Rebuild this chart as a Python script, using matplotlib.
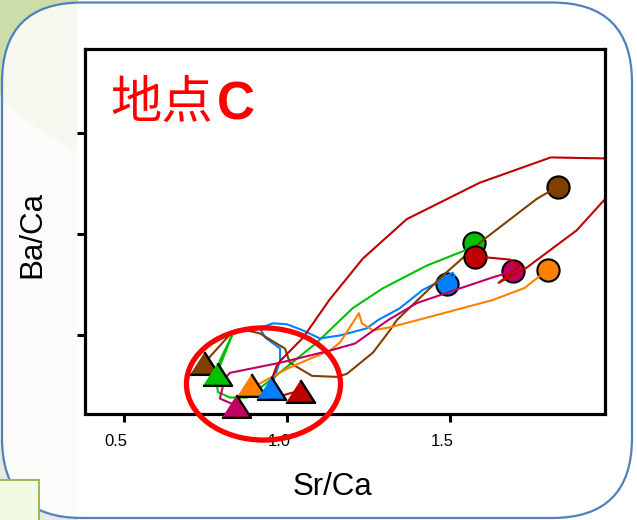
import matplotlib
matplotlib.use('Agg')
import matplotlib.pyplot as plt
from matplotlib.patches import FancyBboxPatch, Ellipse, Rectangle, Polygon
from matplotlib.transforms import ScaledTranslation

plt.rcParams['font.family'] = ['Liberation Sans', 'DejaVu Sans']

# values (y axis has no labels, ticks taken as 1, 2, 3)
red_x = [1.04, 0.99, 0.93, 0.954, 0.969, 0.98, 1.05, 1.13, 1.233, 1.368, 1.592, 1.81, 1.975,
         2.10, 1.98, 1.89, 1.736, 1.65, 1.715, 1.684, 1.617, 1.577]
red_y = [0.455, 0.41, 0.42, 0.574, 0.70, 0.75, 0.98, 1.35, 1.76, 2.15, 2.51, 2.76, 2.75,
         2.75, 2.36, 2.04, 1.67, 1.52, 1.69, 1.75, 1.77, 1.78]
brown_x = [0.745, 0.831, 0.877, 0.917, 0.994, 1.009, 1.077, 1.153, 1.184, 1.264, 1.316,
           1.337, 1.485, 1.601, 1.767, 1.831]
brown_y = [0.723, 1.03, 1.05, 1.02, 0.87, 0.73, 0.60, 0.59, 0.62, 0.83, 1.05,
           1.15, 1.61, 1.94, 2.35, 2.47]
green_x = [0.785, 0.831, 0.794, 0.785, 0.788, 0.825, 0.877, 0.948, 1.092, 1.202, 1.294,
           1.429, 1.546, 1.574]
green_y = [0.62, 1.00, 0.75, 0.52, 0.44, 0.386, 0.386, 0.554, 0.93, 1.27, 1.465,
           1.69, 1.84, 1.91]
blue_x = [0.951, 0.979, 0.979, 0.933, 0.917, 0.957, 1.0, 1.049, 1.101, 1.163, 1.245, 1.279,
          1.347, 1.417, 1.46, 1.509, 1.515, 1.491]
blue_y = [0.485, 0.75, 0.87, 0.98, 1.07, 1.12, 1.11, 1.05, 0.97, 1.0, 1.07, 1.15,
          1.27, 1.45, 1.52, 1.62, 1.59, 1.51]
orange_x = [0.89, 0.917, 1.0, 1.071, 1.132, 1.163, 1.221, 1.23, 1.264, 1.316, 1.399, 1.632,
            1.73, 1.801]
orange_y = [0.505, 0.525, 0.67, 0.77, 0.85, 0.93, 1.22, 1.12, 1.05, 1.08, 1.15, 1.35,
            1.47, 1.65]
purple_x = [0.844, 0.794, 0.81, 0.825, 0.979, 1.132, 1.209, 1.31, 1.399, 1.531, 1.632, 1.693]
purple_y = [0.307, 0.376, 0.58, 0.63, 0.73, 0.85, 0.92, 1.15, 1.32, 1.465, 1.574, 1.634]

colors = {'red': '#C00000', 'brown': '#7F3F00', 'green': '#00C000',
          'blue': '#0080FF', 'orange': '#FF8000', 'purple': '#C00060'}
series = {'red': (red_x, red_y), 'brown': (brown_x, brown_y), 'green': (green_x, green_y),
          'blue': (blue_x, blue_y), 'orange': (orange_x, orange_y), 'purple': (purple_x, purple_y)}

x_ticks = [0.5, 1.0, 1.5]
x_tick_labels = ['0.5', '1.0', '1.5']
y_ticks = [1, 2, 3]

W, H = 637, 520
fig = plt.figure(figsize=(W / 100, H / 100), dpi=100)

# slide background, in pixels
bg = fig.add_axes([0, 0, 1, 1])
bg.set_xlim(0, W)
bg.set_ylim(H, 0)
bg.axis('off')
bg.add_patch(Rectangle((0, 0), 78, 95, fc='#CBDDA9', ec='none'))
bg.add_patch(Rectangle((0, 95), 4, 345, fc='#F4F5F0', ec='none'))
bg.add_patch(Rectangle((0, 440), 78, 80, fc='#E9E8E2', ec='none'))
box = FancyBboxPatch((2, 2.5), 630, 515.5, boxstyle='round,pad=0,rounding_size=80',
                     fc='#FBFCFA', ec='none')
bg.add_patch(box)
tint = Polygon([(0, 0), (77, 0), (77, 152), (40, 130), (0, 100)], fc='#F4F8EE', ec='none')
bg.add_patch(tint)
tint.set_clip_path(box)
white = Rectangle((77, 0), W, H, fc='white', ec='none')
bg.add_patch(white)
white.set_clip_path(box)
bg.add_patch(FancyBboxPatch((2, 2.5), 630, 515.5, boxstyle='round,pad=0,rounding_size=80',
                            fc='none', ec='#4F81BD', lw=1.6))
bg.add_patch(Rectangle((-2, 480), 41, 44, fc='#F1FBE3', ec='#9BBB59', lw=1.5))

# plot area is at x 85..605, y 49..413
ax = fig.add_axes([85 / W, 1 - 413.5 / H, 519.5 / W, 364.5 / H])
ax.patch.set_facecolor('white')
ax.set_xlim(0.38, 1.975)
ax.set_ylim(0.228, 3.832)

for name in ['green', 'blue', 'brown', 'orange', 'purple', 'red']:
    xs, ys = series[name]
    ax.plot(xs[-1], ys[-1], 'o', ms=16, mfc=colors[name], mec='black', mew=1.5)
    ax.plot(xs, ys, color=colors[name], lw=1.5)

tri = [(-1, -0.78), (1, -0.78), (0, 0.78)]
for name in ['brown', 'green', 'orange', 'blue', 'purple', 'red']:
    xs, ys = series[name]
    ax.plot(xs[0], ys[0], marker=tri, ms=21, mfc=colors[name], mec='black', mew=1.7,
            clip_on=False, zorder=4)

ax.set_xticks(x_ticks)
ax.set_xticklabels(x_tick_labels, fontsize=12)
ax.set_yticks(y_ticks)
ax.set_yticklabels([])
ax.tick_params(length=5.8, width=2.2, pad=9)
for s in ax.spines.values():
    s.set_linewidth(2.3)
for lab in ax.get_xticklabels():
    lab.set_transform(lab.get_transform() + ScaledTranslation(-8 / 100, 0, fig.dpi_scale_trans))

ax.add_patch(Ellipse((0.928, 0.52), 0.473, 1.109, fc='none', ec='#FF0000', lw=3.8,
                     clip_on=False, zorder=6))

ax.text(110, 118, '地点', transform=bg.transData, color='#FF0000', fontsize=37,
        family=['Noto Sans CJK JP', 'DejaVu Sans'], va='baseline')
ax.text(217, 120, 'C', transform=bg.transData, color='#FF0000', fontsize=38,
        weight='bold', va='baseline')

fig.text(332 / W, 1 - 487 / H, 'Sr/Ca', fontsize=22.5, ha='center', va='center')
fig.text(32 / W, 1 - 235 / H, 'Ba/Ca', fontsize=22.5, ha='center', va='center', rotation=90)

fig.savefig('out.png', dpi=100)
